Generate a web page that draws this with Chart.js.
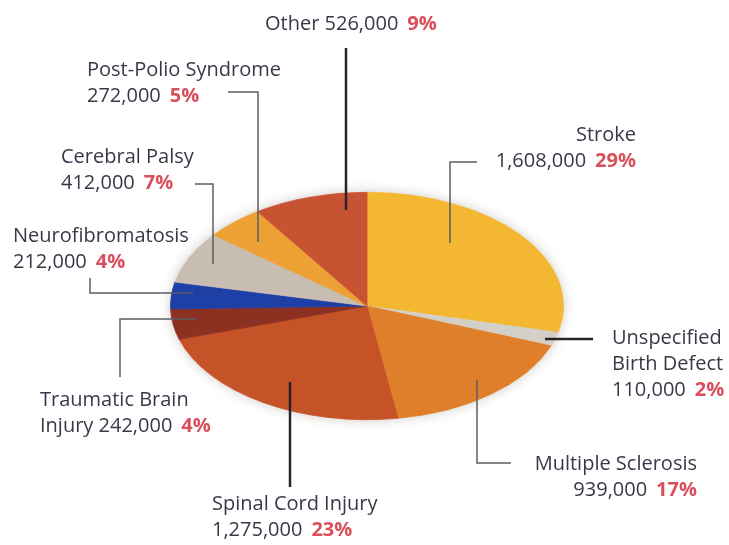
<!DOCTYPE html>
<html>
<head>
<meta charset="utf-8">
<script src="https://cdn.jsdelivr.net/npm/chart.js@4/dist/chart.umd.min.js"></script>
<style>
  html, body { margin: 0; padding: 0; background: #ffffff; }
  #grafica { display: block; }
</style>
</head>
<body>
<canvas id="grafica" width="729" height="545"></canvas>
<script>
// Causas de parálisis, en el orden en que se dibujan (desde arriba, sentido horario)
const categorias = ["Stroke", "Unspecified Birth Defect", "Multiple Sclerosis", "Spinal Cord Injury",
    "Traumatic Brain Injury", "Neurofibromatosis", "Cerebral Palsy", "Post-Polio Syndrome", "Other"];
const valores = [1608000, 110000, 939000, 1275000, 242000, 212000, 412000, 272000, 526000];
const colores = ["#f3b731", "#d4cfc7", "#df7f2b", "#c65228", "#8c3022", "#1d3fa6", "#c8bdb1", "#eda033", "#c85333"];

// texto de cada etiqueta, partido en renglones
const nombres = [["Stroke"], ["Unspecified", "Birth Defect"], ["Multiple Sclerosis"], ["Spinal Cord Injury"],
    ["Traumatic Brain", "Injury"], ["Neurofibromatosis"], ["Cerebral Palsy"], ["Post-Polio Syndrome"], ["Other"]];

// posición de cada etiqueta y su línea guía
const etiquetas = [
    { x: 636, y: 135, alinear: "right", guia: [[477, 162], [450, 162], [450, 243]] },
    { x: 612, y: 338, alinear: "left", grueso: true, guia: [[593, 339], [545, 339]] },
    { x: 697, y: 464, alinear: "right", guia: [[511, 463], [477, 463], [477, 380]] },
    { x: 212, y: 504, alinear: "left", grueso: true, guia: [[290, 487], [290, 382]] },
    { x: 40, y: 400, alinear: "left", enLinea: true, guia: [[120, 377], [120, 319], [197, 319]] },
    { x: 13, y: 236, alinear: "left", guia: [[90, 278], [90, 293], [193, 293]] },
    { x: 61, y: 157, alinear: "left", guia: [[195, 184], [213, 184], [213, 264]] },
    { x: 87, y: 70, alinear: "left", guia: [[228, 92], [258, 92], [258, 242]] },
    { x: 265, y: 24, alinear: "left", enLinea: true, grueso: true, guia: [[346, 48], [346, 210]] }
];

const escalaY = 114 / 197;
const fuente = "20px 'Open Sans', sans-serif";
const fuentePct = "bold 20px 'Open Sans', sans-serif";
const colorTexto = "#363a48";
const colorPct = "#d94f5b";
const interlineado = 26;

// aplasta el pastel para que se vea como elipse
const elipse = {
    id: "elipse",
    beforeDatasetsDraw(chart) {
        const arco = chart.getDatasetMeta(0).data[0];
        const ctx = chart.ctx;
        ctx.save();
        ctx.save();
        ctx.shadowColor = "rgba(60,40,20,0.25)";
        ctx.shadowBlur = 12;
        ctx.fillStyle = "#ffffff";
        ctx.beginPath();
        ctx.ellipse(arco.x, arco.y, arco.outerRadius, arco.outerRadius * escalaY, 0, 0, Math.PI * 2);
        ctx.fill();
        ctx.restore();
        ctx.translate(arco.x, arco.y);
        ctx.scale(1, escalaY);
        ctx.translate(-arco.x, -arco.y);
    },
    afterDatasetsDraw(chart) {
        chart.ctx.restore();
    }
};

const rotulos = {
    id: "rotulos",
    afterDraw(chart) {
        const ctx = chart.ctx;
        const total = valores.reduce((a, b) => a + b, 0);
        ctx.save();

        etiquetas.forEach((e) => {
            ctx.beginPath();
            ctx.lineWidth = e.grueso ? 2.5 : 1.5;
            ctx.strokeStyle = e.grueso ? "#25252d" : "#5a5e66";
            e.guia.forEach((p, k) => {
                if(k == 0){
                    ctx.moveTo(p[0], p[1]);
                }else{
                    ctx.lineTo(p[0], p[1]);
                }
            });
            ctx.stroke();
        });

        ctx.textBaseline = "middle";
        etiquetas.forEach((e, i) => {
            let renglones = nombres[i].slice();
            let cifra = valores[i].toLocaleString("en-US");
            let pct = Math.round(valores[i] / total * 100) + "%";

            if(e.enLinea){
                renglones[renglones.length - 1] += " " + cifra;
            }else{
                renglones.push(cifra);
            }

            renglones.forEach((texto, k) => {
                let y = e.y + k * interlineado;
                let ultimo = k == renglones.length - 1;
                ctx.font = fuente;
                let ancho = ctx.measureText(texto).width;
                let hueco = 0;
                let anchoPct = 0;
                if(ultimo){
                    hueco = 9;
                    ctx.font = fuentePct;
                    anchoPct = ctx.measureText(pct).width;
                }
                let x = e.alinear == "right" ? e.x - (ancho + hueco + anchoPct) : e.x;

                ctx.font = fuente;
                ctx.fillStyle = colorTexto;
                ctx.textAlign = "left";
                ctx.fillText(texto, x, y);
                if(ultimo){
                    ctx.font = fuentePct;
                    ctx.fillStyle = colorPct;
                    ctx.fillText(pct, x + ancho + hueco, y);
                }
            });
        });
        ctx.restore();
    }
};

const ctx = document.getElementById("grafica").getContext("2d");

new Chart(ctx, {
    type: "pie",
    data: {
        labels: categorias,
        datasets: [{
            data: valores,
            backgroundColor: colores,
            borderColor: colores,
            borderWidth: 1
        }]
    },
    options: {
        responsive: false,
        animation: false,
        layout: { padding: { left: 170, right: 165, top: 109, bottom: 42 } },
        plugins: {
            legend: { display: false },
            tooltip: { enabled: false }
        }
    },
    plugins: [elipse, rotulos]
});
</script>
</body>
</html>
